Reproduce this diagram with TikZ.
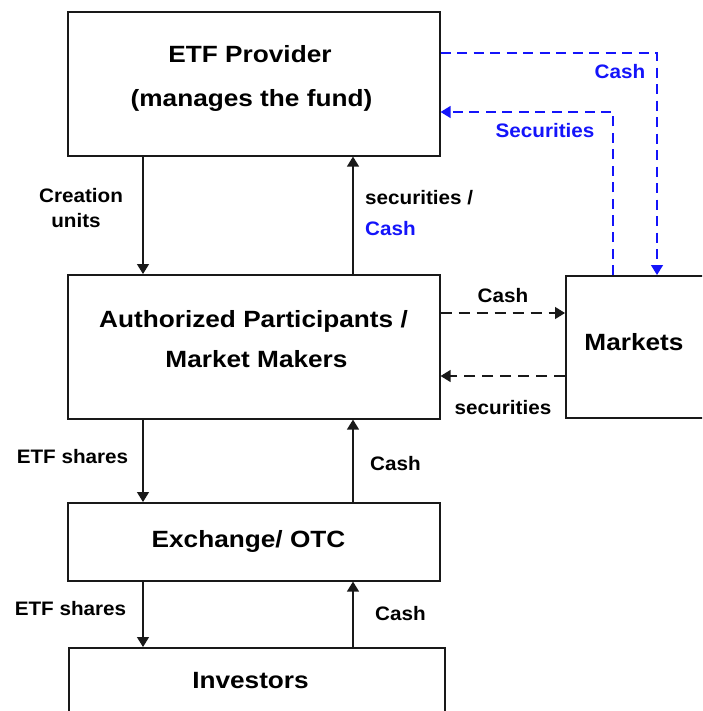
\documentclass[tikz,border=0pt]{standalone}
\usepackage{fontspec}
\setmainfont{Liberation Sans}
\newfontfamily\boxfont[FakeStretch=1.115]{Liberation Sans}
\newfontfamily\labfont[FakeStretch=1.06]{Liberation Sans}
\usetikzlibrary{arrows.meta}
\definecolor{lnk}{RGB}{20,20,250}
\definecolor{ln}{RGB}{25,25,25}
\begin{document}
\begin{tikzpicture}[x=1pt,y=-1pt,
  box/.style={draw=ln, line width=1.6pt, inner sep=0pt, anchor=north west, fill=none},
  btxt/.style={inner sep=0pt, anchor=base, font=\boxfont\bfseries\fontsize{23.5}{23.5}\selectfont},
  ltxt/.style={inner sep=0pt, anchor=base, font=\labfont\bfseries\fontsize{19.5}{19.5}\selectfont},
  tip/.style={-{Triangle[length=10pt,width=12pt]}},
  flow/.style={draw=ln, line width=1.3pt, tip},
  dflow/.style={flow, dash pattern=on 11pt off 7pt},
  bflow/.style={draw=lnk, line width=1.3pt, tip, dash pattern=on 10pt off 6.5pt}]
\clip (0,0) rectangle (702,711);
\useasboundingbox (0,0) rectangle (702,711);
% boxes
\node[box, minimum width=372pt, minimum height=144pt] (etf) at (67,11) {};
\node[box, minimum width=372pt, minimum height=144pt] (ap) at (67,274) {};
\node[box, minimum width=145pt, minimum height=142pt] (mk) at (565,275) {};
\node[box, minimum width=372pt, minimum height=78pt] (ex) at (67,502) {};
\node[box, minimum width=376pt, minimum height=90pt] (inv) at (68,647) {};
% box texts
\node[btxt] (t1) at (250,63) {ETF Provider};
\node[btxt] (t2) at (251.5,107) {(manages the fund)};
\node[btxt] (t3) at (253.5,327) {Authorized Participants /};
\node[btxt] (t4) at (256.5,367) {Market Makers};
\node[btxt] (t5) at (634,350) {Markets};
\node[btxt] (t6) at (248.5,547) {Exchange/ OTC};
\node[btxt] (t7) at (250.5,688) {Investors};
% columns and rows
\coordinate (cl) at (143,0);
\coordinate (cr) at (353,0);
\coordinate (cs) at (613,0);
\coordinate (cc) at (657,0);
\coordinate (r1) at (0,53);
\coordinate (r2) at (0,112);
\coordinate (r3) at (0,313);
\coordinate (r4) at (0,376);
% vertical flows
\draw[flow] (etf.south -| cl) -- (ap.north -| cl);
\draw[flow] (ap.north -| cr) -- (etf.south -| cr);
\draw[flow] (ap.south -| cl) -- (ex.north -| cl);
\draw[flow] (ex.north -| cr) -- (ap.south -| cr);
\draw[flow] (ex.south -| cl) -- (inv.north -| cl);
\draw[flow] (inv.north -| cr) -- (ex.south -| cr);
% AP <-> Markets
\draw[dflow] (ap.east |- r3) -- (mk.west |- r3);
\draw[dflow] (mk.west |- r4) -- (ap.east |- r4);
% ETF <-> Markets (blue)
\draw[bflow] (etf.east |- r1) -- (cc |- r1) -- (mk.north -| cc);
\draw[bflow] (mk.north -| cs) -- (cs |- r2) -- (etf.east |- r2);
% labels
\node[ltxt] (l1) at (81,203) {Creation};
\node[ltxt] (l2) at (76,227) {units};
\node[ltxt, anchor=base west] (l3) at (365,205) {securities /};
\node[ltxt, anchor=base west, text=lnk] (l4) at (365,235) {Cash};
\node[ltxt] (l5) at (503,302) {Cash};
\node[ltxt] (l6) at (503,414) {securities};
\node[ltxt, text=lnk] (l7) at (620,79) {Cash};
\node[ltxt, text=lnk] (l8) at (545,138) {Securities};
\node[ltxt] (l9) at (72.5,463) {ETF shares};
\node[ltxt] (l10) at (395.5,470) {Cash};
\node[ltxt] (l11) at (70.5,615) {ETF shares};
\node[ltxt] (l12) at (400.5,620) {Cash};
\end{tikzpicture}
\end{document}
